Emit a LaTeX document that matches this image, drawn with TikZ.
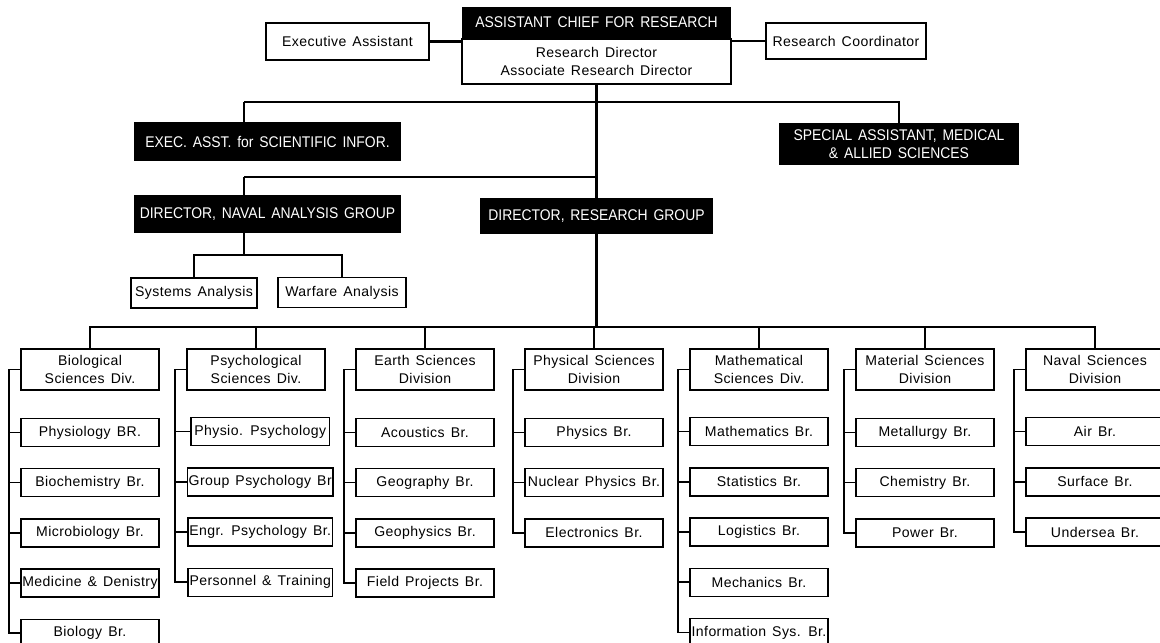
\documentclass[tikz,border=0pt]{standalone}
\usepackage{fontspec}
\setmainfont{Liberation Sans}[LetterSpace=3,WordSpace=1.4]
\newfontfamily\headfont{Liberation Sans}[WordSpace=1.5,FakeStretch=0.9]
\usetikzlibrary{positioning,calc}
\tikzset{
  blackbox/.style={fill=black,text=white,inner sep=1pt,align=center,
    font=\headfont\fontsize{11}{13}\selectfont},
  whitebox/.style={draw,line width=1pt,inner sep=1pt,align=center,
    font=\fontsize{10}{13}\selectfont},
  divbox/.style={draw,line width=1.8pt,minimum width=3.45cm,minimum height=1.025cm,
    inner sep=1pt,align=center,font=\fontsize{10}{13}\selectfont},
  brbox/.style={draw,line width=1pt,minimum width=3.45cm,minimum height=0.7cm,
    inner sep=1pt,font=\fontsize{10}{12}\selectfont},
  link/.style={line width=1.6pt},
  spine/.style={line width=1.1pt}
}

\begin{document}
\begin{tikzpicture}[x=0.025cm,y=-0.025cm,node distance=0.52cm]
  \useasboundingbox (0,0) rectangle (1160,643);
  \node[blackbox,minimum width=6.725cm,minimum height=0.775cm] (chief) at (596.5,22.5) {ASSISTANT CHIEF FOR RESEARCH};
  \node[whitebox,minimum width=6.725cm,minimum height=1.125cm,below=0pt of chief] (rd) {Research Director\\Associate Research Director};
  \node[whitebox,minimum width=4.075cm,minimum height=0.925cm] (exec) at (347.5,41.5) {Executive Assistant};
  \node[whitebox,minimum width=4cm,minimum height=0.9cm] (coord) at (846,41) {Research Coordinator};
  \draw[link] (exec.east) -- (exec.east -| rd.west);
  \draw[link] (coord.west) -- (coord.west -| rd.east);

  \node[blackbox,minimum width=6.675cm,minimum height=0.975cm] (sci) at (267.5,141.5) {EXEC. ASST. for SCIENTIFIC INFOR.};
  \node[blackbox,minimum width=6cm,minimum height=1.05cm] (med) at (899,144) {SPECIAL ASSISTANT, MEDICAL\\\& ALLIED SCIENCES};
  \node[blackbox,minimum width=6.675cm,minimum height=0.95cm] (nag) at (267.5,214) {DIRECTOR, NAVAL ANALYSIS GROUP};
  \node[blackbox,minimum width=5.825cm,minimum height=0.9cm] (rg) at (596.5,216) {DIRECTOR, RESEARCH GROUP};
  \node[whitebox,minimum width=3.15cm,minimum height=0.75cm] (sys) at (194,293) {Systems Analysis};
  \node[whitebox,minimum width=3.2cm,minimum height=0.75cm] (war) at (342,292.5) {Warfare Analysis};

  \coordinate (j1) at (244,102);
  \coordinate (j2) at (244,177);
  \coordinate (j3) at (244,255);
  \coordinate (dbar) at (0,327);
  \draw[link] (rd.south) -- (rg.north);
  \draw[link] (j1) -- (j1 -| med.north) -- (med.north);
  \draw[link] (j1) -- (j1 |- sci.north);
  \draw[link] (j2) -- (j2 -| rg.north);
  \draw[link] (j2) -- (j2 |- nag.north);
  \draw[link] (j3 |- nag.south) -- (j3);
  \draw[link] (sys.north) |- (j3) -| (war.north);

  \node[divbox] (bio) at (90,369.5) {Biological\\Sciences Div.};
  \node[divbox] (psy) at (256,369.5) {Psychological\\Sciences Div.};
  \node[divbox] (ear) at (425,369.5) {Earth Sciences\\Division};
  \node[divbox] (phy) at (594,369.5) {Physical Sciences\\Division};
  \node[divbox] (mat) at (759,369.5) {Mathematical\\Sciences Div.};
  \node[divbox] (mtl) at (925,369.5) {Material Sciences\\Division};
  \node[divbox] (nav) at (1095,369.5) {Naval Sciences\\Division};
  \draw[link] (rg.south) -- (rg.south |- dbar);
  \draw[link] (bio.north) |- (nav.north |- dbar) -- (nav.north);
  \foreach \d in {psy,ear,phy,mat,mtl}
    \draw[link] (\d.north) -- (\d.north |- dbar);

  \node[brbox,below=0.66cm of bio] (bio1) {Physiology BR.};
  \node[brbox,below=of bio1] (bio2) {Biochemistry Br.};
  \node[brbox,below=of bio2] (bio3) {Microbiology Br.};
  \node[brbox,below=of bio3] (bio4) {Medicine \& Denistry};
  \node[brbox,below=of bio4] (bio5) {Biology Br.};

  \node[brbox,below=0.64cm of psy,xshift=3pt] (psy1) {Physio. Psychology};
  \node[brbox,below=of psy1] (psy2) {Group Psychology Br};
  \node[brbox,below=of psy2] (psy3) {Engr. Psychology Br.};
  \node[brbox,below=of psy3] (psy4) {Personnel \& Training};

  \node[brbox,below=0.66cm of ear] (ear1) {Acoustics Br.};
  \node[brbox,below=of ear1] (ear2) {Geography Br.};
  \node[brbox,below=of ear2] (ear3) {Geophysics Br.};
  \node[brbox,below=of ear3] (ear4) {Field Projects Br.};

  \node[brbox,below=0.66cm of phy] (phy1) {Physics Br.};
  \node[brbox,below=of phy1] (phy2) {Nuclear Physics Br.};
  \node[brbox,below=of phy2] (phy3) {Electronics Br.};

  \node[brbox,below=0.64cm of mat] (mat1) {Mathematics Br.};
  \node[brbox,below=of mat1] (mat2) {Statistics Br.};
  \node[brbox,below=of mat2] (mat3) {Logistics Br.};
  \node[brbox,below=of mat3] (mat4) {Mechanics Br.};
  \node[brbox,below=of mat4] (mat5) {Information Sys. Br.};

  \node[brbox,below=0.66cm of mtl] (mtl1) {Metallurgy Br.};
  \node[brbox,below=of mtl1] (mtl2) {Chemistry Br.};
  \node[brbox,below=of mtl2] (mtl3) {Power Br.};

  \node[brbox,below=0.64cm of nav] (nav1) {Air Br.};
  \node[brbox,below=of nav1] (nav2) {Surface Br.};
  \node[brbox,below=of nav2] (nav3) {Undersea Br.};

  \foreach \d/\n in {bio/5,psy/4,ear/4,phy/3,mat/5,mtl/3,nav/3}{
    \coordinate (sp\d) at ($(\d.west)+(-0.27cm,0)$);
    \draw[spine] (\d.west) -- (sp\d) |- (\d\n.west);
    \foreach \k in {1,...,\n}
      \draw[spine] (\d\k.west) -- (sp\d |- \d\k.west);
  }
\end{tikzpicture}
\end{document}
